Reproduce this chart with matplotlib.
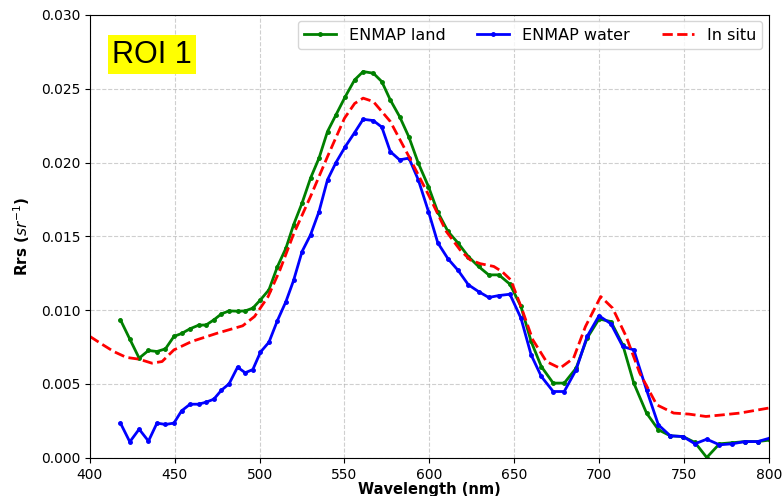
import matplotlib
matplotlib.use('Agg')
import matplotlib.pyplot as plt

# EnMAP band centres (nm)
enmap_wl = [418, 423.5, 429, 434.5, 439.5, 444.5, 449.5, 454, 459, 464, 468.5, 473,
            477.5, 482, 487, 491.5, 496, 500.5, 505.5, 510.5, 515.5, 520, 525, 530,
            535, 540, 545, 550.5, 556, 561, 567, 572, 577, 582.5, 588, 593.5, 599.5,
            605, 611, 617, 623, 629, 635, 641, 647.5, 654, 660, 666, 673, 679.5,
            686.5, 693, 700, 707, 714, 720.5, 728, 735, 742, 749.5, 756.5, 763.5,
            771, 778.5, 786, 793.5, 800.5]

enmap_land = [0.00934, 0.00804, 0.00675, 0.00727, 0.0072, 0.00738, 0.00822, 0.00842,
              0.00874, 0.00898, 0.009, 0.00934, 0.00975, 0.00995, 0.00993, 0.00995,
              0.01014, 0.0107, 0.01138, 0.01295, 0.0142, 0.01578, 0.01725, 0.01894,
              0.0203, 0.0221, 0.02323, 0.02447, 0.0256, 0.02616, 0.02605, 0.02548,
              0.02424, 0.02311, 0.02172, 0.01996, 0.01837, 0.01664, 0.01533, 0.01454,
              0.01363, 0.01296, 0.01239, 0.01239, 0.01176, 0.01025, 0.00788, 0.00618,
              0.00506, 0.00506, 0.00607, 0.00811, 0.0094, 0.00923, 0.00765, 0.00506,
              0.00303, 0.0019, 0.00149, 0.00144, 0.00104, 0.00002, 0.00095, 0.00102,
              0.0011, 0.0011, 0.0012]

enmap_water = [0.00235, 0.00108, 0.00194, 0.00113, 0.00235, 0.00226, 0.00235, 0.00318,
               0.00363, 0.00363, 0.00377, 0.00397, 0.00458, 0.00501, 0.00614, 0.00576,
               0.00598, 0.00716, 0.00783, 0.0093, 0.01058, 0.01201, 0.01397, 0.0151,
               0.01668, 0.01883, 0.0200, 0.02108, 0.02203, 0.02293, 0.02284, 0.0224,
               0.02074, 0.02018, 0.0203, 0.01883, 0.01668, 0.01456, 0.01348, 0.01269,
               0.01172, 0.01126, 0.01086, 0.01099, 0.01108, 0.00946, 0.00697, 0.00551,
               0.00449, 0.00449, 0.00596, 0.00822, 0.00962, 0.00908, 0.00754, 0.00731,
               0.0046, 0.00223, 0.00149, 0.00144, 0.00095, 0.00126, 0.00088, 0.00095,
               0.0011, 0.0011, 0.00133]

insitu_wl = [400, 407, 414, 421.5, 429, 436.5, 442.5, 449.5, 460, 475, 490, 497, 505,
             512, 520, 530, 540, 550, 556, 561, 567, 577, 588, 600, 610, 618, 624, 630,
             638, 643, 648, 654, 661, 669, 677, 685, 692, 701, 708, 716, 724, 734, 744,
             753, 763, 773, 783, 800]
insitu = [0.00822, 0.0077, 0.0072, 0.0068, 0.00668, 0.00641, 0.00652, 0.00731, 0.00788,
          0.00844, 0.00894, 0.00957, 0.01092, 0.01273, 0.01515, 0.0177, 0.0204, 0.0230,
          0.0240, 0.02436, 0.02413, 0.02278, 0.0204, 0.0177, 0.01533, 0.0141, 0.01341,
          0.01315, 0.01296, 0.0126, 0.01205, 0.01025, 0.00799, 0.00652, 0.00607,
          0.00675, 0.00889, 0.01092, 0.01014, 0.00822, 0.00574, 0.00359, 0.00303,
          0.00296, 0.0028, 0.00291, 0.00303, 0.00337]

fig = plt.figure(figsize=(7.82, 4.96), dpi=100)
ax = fig.add_axes([0.115, 0.077, 0.868, 0.893])

ax.plot(enmap_wl, enmap_land, color='green', marker='o', markersize=2.5, linewidth=2,
        label='ENMAP land')
ax.plot(enmap_wl, enmap_water, color='blue', marker='o', markersize=2.5, linewidth=2,
        label='ENMAP water')
ax.plot(insitu_wl, insitu, color='red', linestyle='--', linewidth=2, label='In situ')

ax.set_xlim(400, 800)
ax.set_ylim(0, 0.030)
ax.set_yticks([0, 0.005, 0.010, 0.015, 0.020, 0.025, 0.030])
ax.yaxis.set_major_formatter(matplotlib.ticker.FormatStrFormatter('%.3f'))
ax.tick_params(labelsize=10)
ax.grid(True, linestyle='--', alpha=0.6)
ax.set_xlabel('Wavelength (nm)', fontsize=10.5, fontweight='bold', labelpad=0)
ax.set_ylabel('Rrs ($sr^{-1}$)', fontsize=11, fontweight='bold', labelpad=6)
ax.legend(loc='upper right', ncol=3, fontsize=11.5, borderaxespad=0.4)

ax.text(0.033, 0.91, 'ROI 1', transform=ax.transAxes, fontsize=22,
        family='Liberation Sans', va='center', ha='left',
        bbox=dict(facecolor='yellow', edgecolor='none', pad=3))

plt.savefig('out.png', dpi=100)
